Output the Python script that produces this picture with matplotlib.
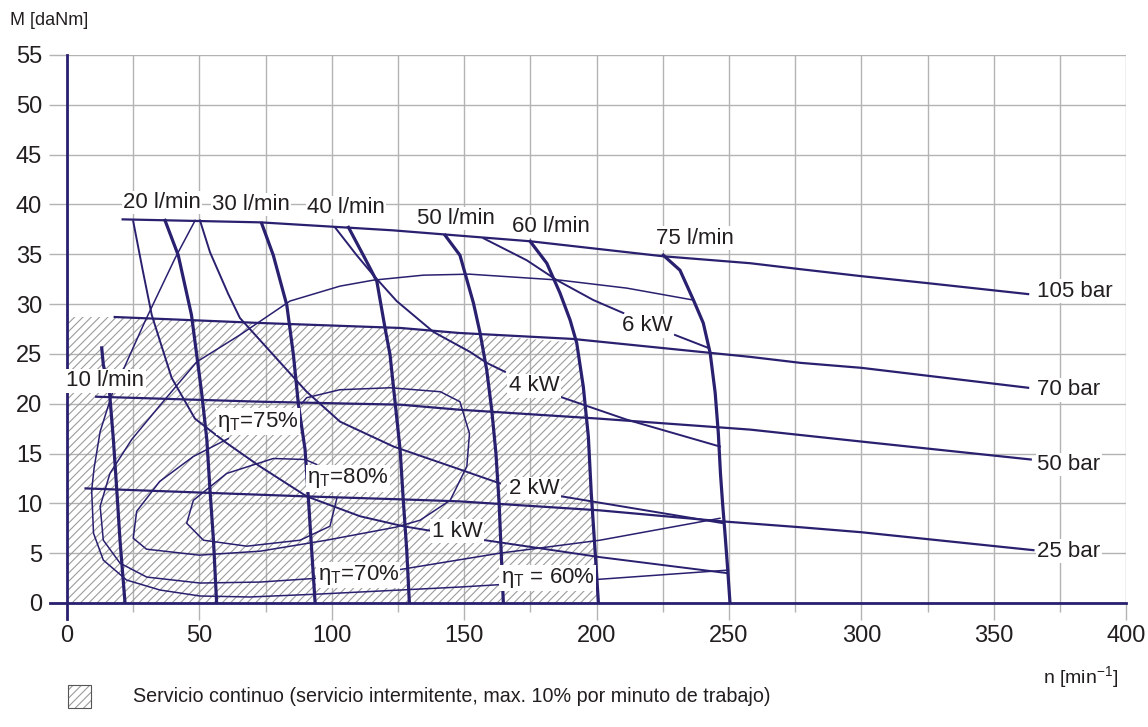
import matplotlib.pyplot as plt
from matplotlib.patches import Rectangle

plt.rcParams['font.family'] = ['Liberation Sans', 'DejaVu Sans']
plt.rcParams['mathtext.fontset'] = 'custom'
plt.rcParams['mathtext.rm'] = 'Liberation Sans'
plt.rcParams['mathtext.it'] = 'Liberation Sans:italic'
plt.rcParams['hatch.linewidth'] = 0.8

AZUL = '#29206f'
GRIS = '#b3b3b3'
TRAMA = '#9c9c9c'
TEXTO = '#231f20'

# presion constante (bar)
p105_n = [21, 73, 123, 175, 225, 258, 277, 300, 325, 363]
p105_m = [38.5, 38.2, 37.4, 36.3, 34.8, 34.1, 33.5, 32.8, 32.1, 31.0]
p70_n = [18, 73, 126, 148, 191, 243, 258, 277, 300, 363]
p70_m = [28.7, 28.1, 27.6, 27.1, 26.5, 25.1, 24.7, 24.1, 23.6, 21.6]
p50_n = [11, 73, 126, 148, 201, 258, 300, 364]
p50_m = [20.7, 20.2, 19.9, 19.4, 18.5, 17.4, 16.2, 14.4]
p25_n = [7, 90, 126, 148, 201, 247, 277, 300, 365]
p25_m = [11.5, 10.7, 10.4, 10.2, 9.3, 8.2, 7.6, 7.1, 5.3]

# caudal constante (l/min)
q10_n = [13.1, 13.7, 16.0, 17.5, 18.8, 20.0, 21.9]
q10_m = [25.6, 23.9, 21.3, 16.4, 11.3, 6.3, 0]
q20_n = [37, 42, 47, 50.8, 52.8, 54, 55.3, 56.5]
q20_m = [38.4, 34.9, 28.9, 21.2, 16.4, 11.3, 6.3, 0]
q30_n = [73.5, 77.9, 83, 85.5, 87.4, 89.9, 91.2, 92.4, 93.7]
q30_m = [38.1, 34.9, 29.9, 24.9, 19.9, 15.4, 10.3, 5.3, 0]
q40_n = [106.3, 111.9, 117, 120.1, 122, 124, 125.8, 127, 128.3, 129.3]
q40_m = [37.7, 34.9, 32.3, 27.6, 24.9, 19.9, 15.4, 10.3, 5.3, 0]
q50_n = [142.8, 148.4, 153.5, 156, 158.5, 160.4, 162, 163.2, 164, 164.8]
q50_m = [36.9, 34.9, 30.1, 27.1, 23.4, 19.4, 15, 10, 5, 0]
q60_n = [174.9, 181.2, 186.2, 190, 192.5, 195, 196.9, 198, 199.5, 200.7]
q60_m = [36.3, 34.1, 31.1, 28.4, 26.1, 21.7, 16.7, 11, 5, 0]
q75_n = [225.2, 231.5, 236.6, 240.3, 242.9, 244.8, 246, 246.8, 247.6, 248.5, 249.5, 250.4]
q75_m = [34.9, 33.4, 30.4, 28.1, 25.1, 21.1, 17, 13, 10, 7, 3.5, 0]

# potencia constante (kW), tramo izquierdo y derecho de la etiqueta
kw1_n = [25, 28.5, 32, 39.5, 48.3, 60, 72.9, 90.5, 110.7, 127, 138.4]
kw1_m = [38.3, 33.5, 28.9, 22.6, 18.5, 16.1, 13.7, 10.7, 8.7, 7.7, 7.2]
kw1b_n = [157.9, 201.3, 249.2]
kw1b_m = [6.3, 4.6, 3.0]
kw2_n = [50.2, 54, 60.9, 65.3, 77.9, 90.5, 103.1, 123.3, 148.4, 163.5]
kw2_m = [38.4, 35.2, 31.0, 28.6, 24.9, 21.2, 18.2, 15.7, 13.4, 12.0]
kw2b_n = [186.8, 247.9]
kw2b_m = [10.7, 8.0]
kw4_n = [101.2, 109.4, 115.7, 124.5, 138.4, 152.2, 158.5, 165.4]
kw4_m = [37.7, 34.9, 32.9, 30.3, 27.2, 25.2, 24.1, 23.2]
kw4b_n = [186.2, 211.4, 246.6]
kw4b_m = [20.7, 18.4, 15.7]
kw6_n = [157.3, 173.6, 185, 198.8, 210.1]
kw6_m = [36.6, 34.4, 32.4, 30.4, 29.1]
kw6b_n = [229.6, 242.2]
kw6b_m = [26.9, 25.6]

# rendimiento total
e60_n = [48.4, 40.8, 29.5, 21.9, 16.9, 12.5, 10.2, 9.3, 10.0, 13.7, 22.5, 35.1, 50.2, 69, 95.6, 125.8, 148.4, 167.3]
e60_m = [38.4, 34.6, 28.3, 23.8, 20.9, 17.2, 13.5, 11.3, 7.0, 4.3, 2.3, 1.3, 0.7, 0.6, 0.9, 1.3, 1.6, 1.9]
e60b_n = [196.9, 249.8]
e60b_m = [2.3, 3.3]
e70_n = [236.6, 211.4, 186.2, 152, 134.6, 115.7, 103.1, 84.2, 65.3, 49, 35, 24.4, 16.2, 12.5, 13.7, 20, 30.1, 50.2, 72.9, 95.6]
e70_m = [30.4, 31.6, 32.4, 33.0, 32.9, 32.4, 31.8, 30.3, 26.9, 24.2, 19.8, 16.4, 13.0, 9.7, 6.3, 4.0, 2.6, 2.0, 2.1, 2.5]
e70b_n = [124.5, 163.5, 201.3, 246.6]
e70b_m = [3.3, 5.0, 6.3, 8.5]
e75_n = [88.6, 90.5, 103, 122, 141, 148.4, 152, 151, 144.7, 133.3, 124, 98, 73, 50, 30, 25, 26.3, 35, 47.7, 60.9]
e75_m = [20.0, 20.6, 21.4, 21.6, 21.2, 20.2, 17.0, 13.7, 10.3, 8.3, 7.6, 6.3, 5.2, 4.8, 5.4, 6.5, 9.2, 12.2, 14.7, 16.5]
e80_n = [94.3, 89.9, 77.9, 60.3, 47.7, 45.2, 51.5, 67.9, 88, 99.3, 101.9]
e80_m = [13.9, 14.4, 14.5, 13.0, 10.3, 8.0, 6.3, 5.7, 6.3, 7.7, 10.5]

# zona de servicio continuo
zona_n = [0, 18, 73, 126, 148, 192.5, 195, 196.9, 198, 199.5, 200.7, 0]
zona_m = [28.7, 28.7, 28.1, 27.6, 27.1, 26.1, 21.7, 16.7, 11, 5, 0, 0]

etiquetas_caudal = [('10 l/min', 14.5, 22.3), ('20 l/min', 35.9, 40.2), ('30 l/min', 69.5, 40.0),
                    ('40 l/min', 105.4, 39.7), ('50 l/min', 146.9, 38.6), ('60 l/min', 182.8, 37.8),
                    ('75 l/min', 237.2, 36.6)]
etiquetas_presion = [('105 bar', 31.3), ('70 bar', 21.4), ('50 bar', 13.9), ('25 bar', 5.2)]
etiquetas_potencia = [('1 kW', 147.3, 7.2), ('2 kW', 176.4, 11.5), ('4 kW', 176.4, 21.8), ('6 kW', 219, 27.8)]
etiquetas_rend = [('η$_\\mathregular{T}$=75%', 72.2, 18.2), ('η$_\\mathregular{T}$=80%', 106.2, 12.5),
                  ('η$_\\mathregular{T}$=70%', 110, 2.8), ('η$_\\mathregular{T}$ = 60%', 181.5, 2.5)]

fig = plt.figure(figsize=(11.48, 7.27), dpi=100)
ax = fig.add_axes([0.0584, 0.1706, 0.9225, 0.7538])

ax.fill(zona_n, zona_m, facecolor='none', edgecolor=TRAMA, linewidth=0, hatch='////', zorder=1)

for n, m in [(p105_n, p105_m), (p70_n, p70_m), (p50_n, p50_m), (p25_n, p25_m)]:
    ax.plot(n, m, color=AZUL, lw=1.6, zorder=3)

for n, m in [(q10_n, q10_m), (q20_n, q20_m), (q30_n, q30_m), (q40_n, q40_m),
             (q50_n, q50_m), (q60_n, q60_m), (q75_n, q75_m)]:
    ax.plot(n, m, color=AZUL, lw=2.3, zorder=3, solid_joinstyle='round')

for n, m in [(kw1_n, kw1_m), (kw1b_n, kw1b_m), (kw2_n, kw2_m), (kw2b_n, kw2b_m),
             (kw4_n, kw4_m), (kw4b_n, kw4b_m), (kw6_n, kw6_m), (kw6b_n, kw6b_m)]:
    ax.plot(n, m, color=AZUL, lw=1.4, zorder=3, solid_joinstyle='round')

for n, m in [(e60_n, e60_m), (e60b_n, e60b_m), (e70_n, e70_m), (e70b_n, e70b_m),
             (e75_n, e75_m), (e80_n, e80_m)]:
    ax.plot(n, m, color=AZUL, lw=1.1, zorder=3, solid_joinstyle='round')

caja = dict(facecolor='white', edgecolor='none', pad=1.0)
for txt, n, m in etiquetas_caudal + etiquetas_potencia + etiquetas_rend:
    ax.text(n, m, txt, fontsize=16, color=TEXTO, ha='center', va='center', bbox=caja, zorder=5)
for txt, m in etiquetas_presion:
    ax.text(366.5, m, txt, fontsize=16, color=TEXTO, ha='left', va='center', bbox=caja, zorder=5)

ax.set_xlim(0, 400)
ax.set_ylim(0, 55)
ax.set_xticks(range(0, 401, 50))
ax.set_xticks(range(25, 400, 50), minor=True)
ax.set_yticks(range(0, 56, 5))
ax.grid(which='both', color=GRIS, lw=1.0, zorder=0)
ax.set_axisbelow(True)
ax.tick_params(axis='x', which='major', length=12, width=1.0, color=GRIS, pad=4, labelsize=17, labelcolor=TEXTO)
ax.tick_params(axis='x', which='minor', length=6.5, width=1.0, color=GRIS)
ax.tick_params(axis='y', length=13, width=1.0, color=GRIS, pad=5, labelsize=17, labelcolor=TEXTO)
for lado in ax.spines.values():
    lado.set_visible(False)

ax.axvline(0, ymin=-0.03, ymax=1, color=AZUL, lw=2, clip_on=False, zorder=4)
ax.axhline(0, xmin=-0.016, xmax=1, color=AZUL, lw=2, clip_on=False, zorder=4)

fig.text(0.009, 0.972, 'M [daNm]', fontsize=13, color=TEXTO, ha='left', va='center')
fig.text(0.9416, 0.0688, r'n [min$^{\mathregular{-1}}$]', fontsize=14, color=TEXTO, ha='center', va='center')

fig.patches.append(Rectangle((0.0592, 0.0261), 0.02, 0.0316, transform=fig.transFigure,
                             facecolor='white', edgecolor=TRAMA, linewidth=0, hatch='////'))
fig.patches.append(Rectangle((0.0592, 0.0261), 0.02, 0.0316, transform=fig.transFigure,
                             facecolor='none', edgecolor='#555555', linewidth=0.8))
fig.text(0.1159, 0.0413, 'Servicio continuo (servicio intermitente, max. 10% por minuto de trabajo)',
         fontsize=14.2, color=TEXTO, ha='left', va='center')

plt.savefig('out.png', dpi=100)
